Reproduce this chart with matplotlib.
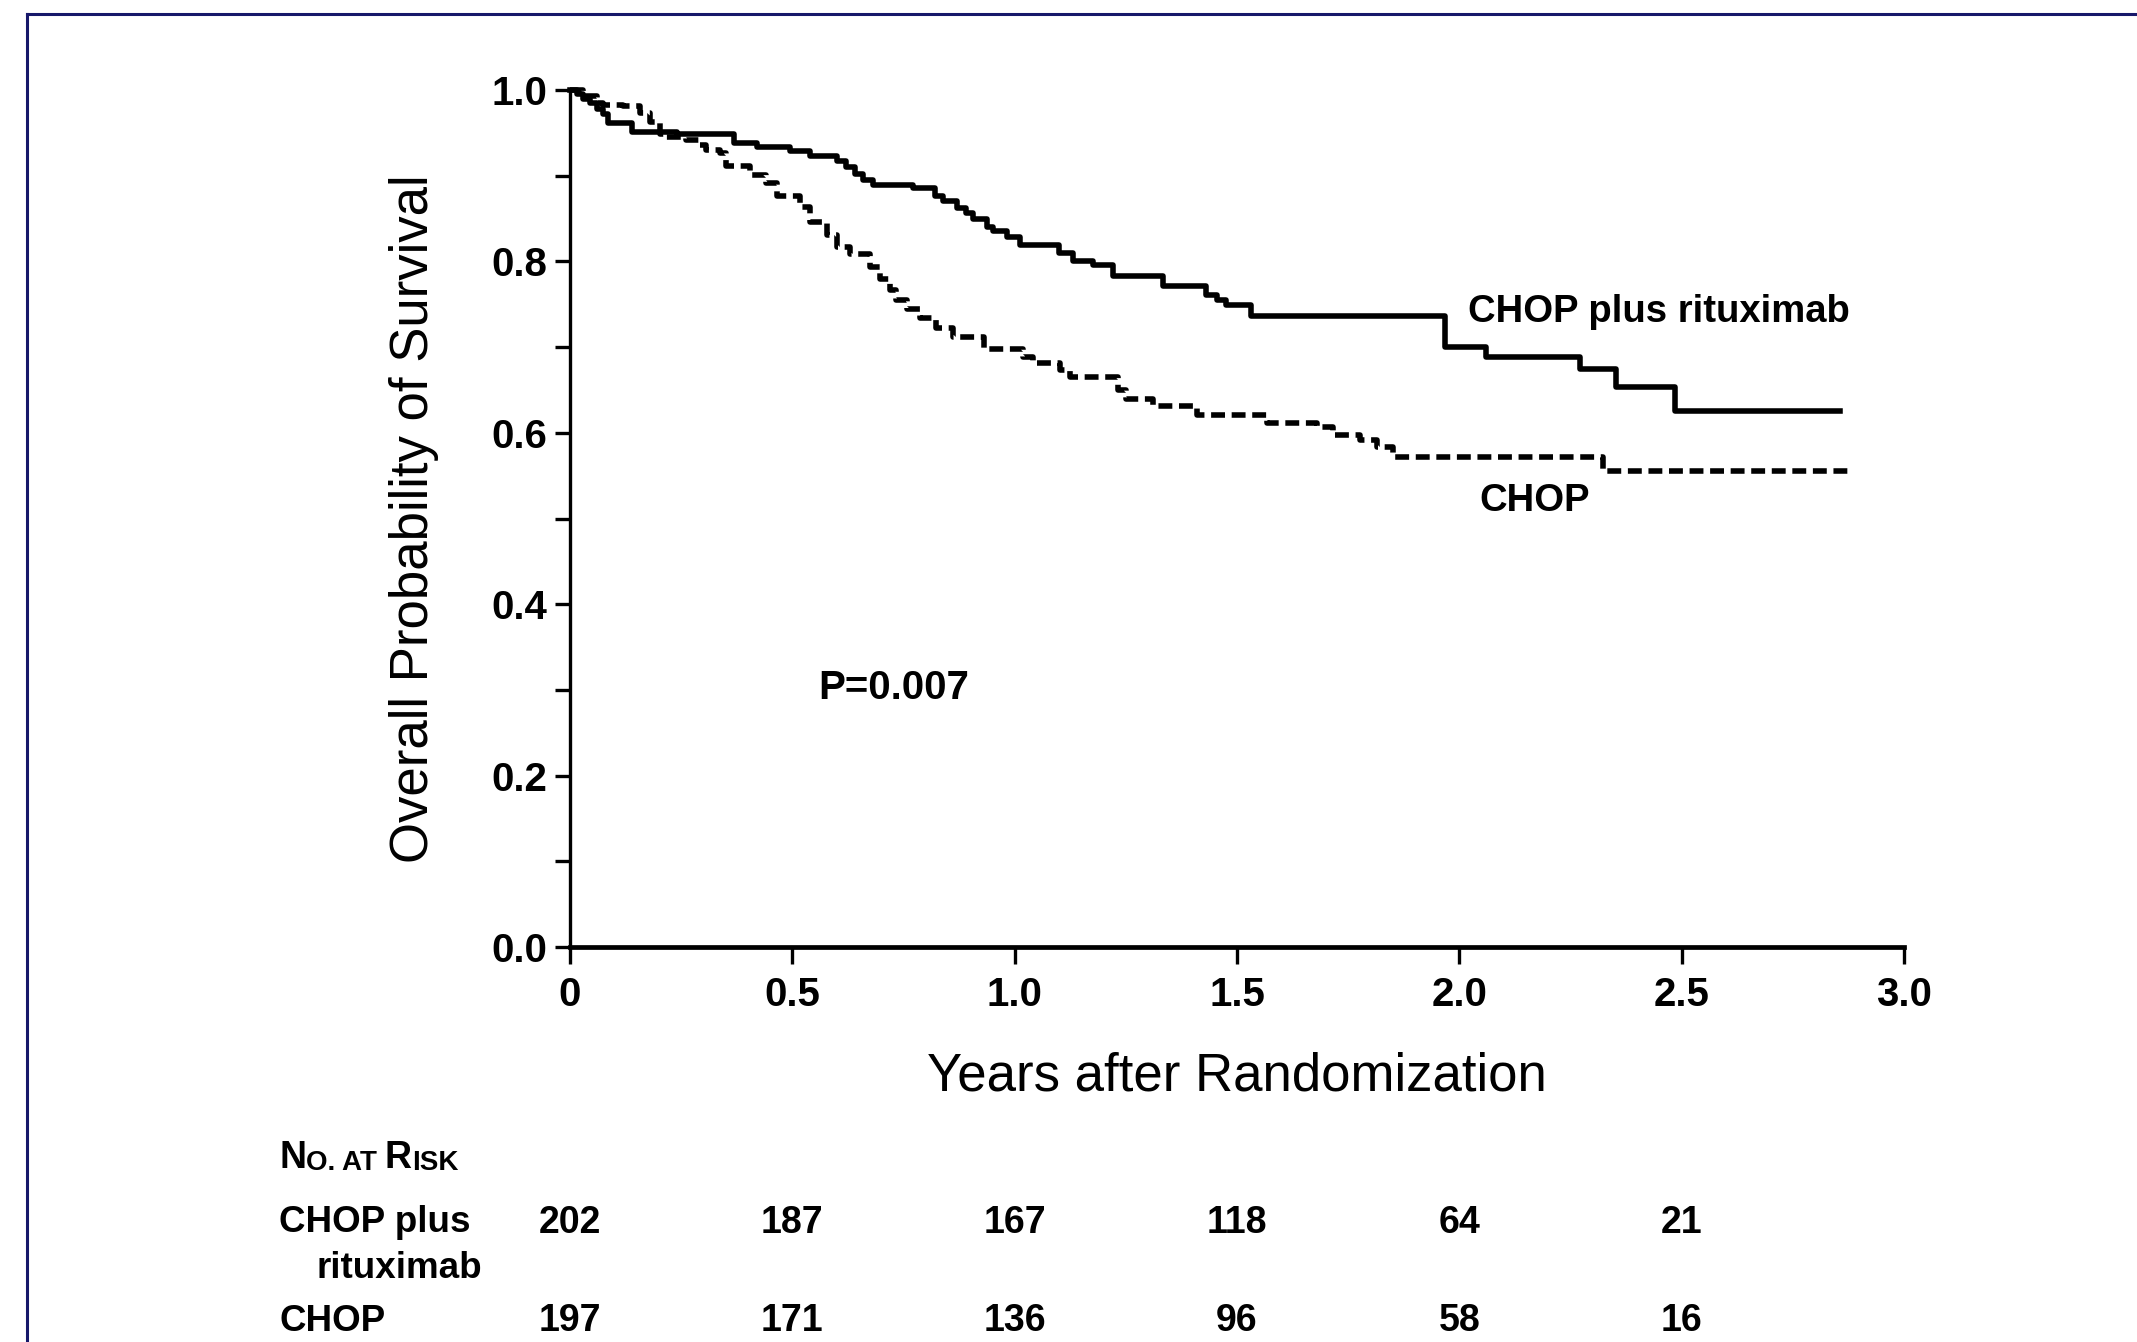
import matplotlib
matplotlib.use("Agg")
import matplotlib.pyplot as plt
from matplotlib.lines import Line2D

plt.rcParams['font.family'] = ['Liberation Sans', 'DejaVu Sans']

# Kaplan-Meier steps (years, survival after step)
rchop_t = [0.0, 0.015, 0.03, 0.045, 0.06, 0.075, 0.085, 0.139, 0.24, 0.37, 0.42,
           0.495, 0.54, 0.6, 0.62, 0.64, 0.66, 0.682, 0.772, 0.82, 0.84, 0.87,
           0.89, 0.907, 0.937, 0.952, 0.982, 1.012, 1.1, 1.132, 1.177, 1.222,
           1.334, 1.431, 1.455, 1.476, 1.532, 1.967, 2.061, 2.271, 2.353, 2.484, 2.855]
rchop_s = [1.0, 0.995, 0.99, 0.985, 0.978, 0.972, 0.961, 0.951, 0.949, 0.938, 0.934,
           0.929, 0.923, 0.917, 0.91, 0.902, 0.895, 0.889, 0.886, 0.876, 0.871, 0.862,
           0.856, 0.85, 0.84, 0.835, 0.829, 0.819, 0.81, 0.8, 0.796, 0.783,
           0.771, 0.761, 0.755, 0.749, 0.736, 0.7, 0.689, 0.674, 0.653, 0.626, 0.626]

chop_t = [0.0, 0.03, 0.06, 0.075, 0.12, 0.157, 0.18, 0.202, 0.217, 0.262, 0.292,
          0.307, 0.337, 0.352, 0.405, 0.442, 0.465, 0.517, 0.54, 0.577, 0.6, 0.629,
          0.675, 0.697, 0.72, 0.734, 0.757, 0.787, 0.824, 0.862, 0.932, 1.019, 1.042,
          1.102, 1.124, 1.232, 1.251, 1.311, 1.409, 1.567, 1.679, 1.716, 1.776, 1.814,
          1.851, 2.323, 2.878]
chop_s = [1.0, 0.993, 0.985, 0.9825, 0.981, 0.973, 0.963, 0.949, 0.945, 0.942, 0.936,
          0.93, 0.927, 0.911, 0.901, 0.891, 0.876, 0.864, 0.846, 0.831, 0.817, 0.809,
          0.794, 0.779, 0.767, 0.755, 0.744, 0.734, 0.722, 0.712, 0.698, 0.689, 0.681,
          0.673, 0.665, 0.65, 0.64, 0.631, 0.621, 0.611, 0.607, 0.598, 0.592, 0.584,
          0.572, 0.556, 0.556]

# number at risk
risk_times = [0, 0.5, 1.0, 1.5, 2.0, 2.5]
risk_rchop = [202, 187, 167, 118, 64, 21]
risk_chop = [197, 171, 136, 96, 58, 16]

x_ticks = [0, 0.5, 1.0, 1.5, 2.0, 2.5, 3.0]
x_labels = ['0', '0.5', '1.0', '1.5', '2.0', '2.5', '3.0']
y_ticks = [0.0, 0.2, 0.4, 0.6, 0.8, 1.0]

fig = plt.figure(figsize=(21.37, 13.42), dpi=100)
ax = fig.add_axes([0.2667, 0.2943, 0.6243, 0.6386])

ax.step(rchop_t, rchop_s, where='post', color='black', lw=4, clip_on=False)
ax.step(chop_t, chop_s, where='post', color='black', lw=4, clip_on=False,
        linestyle=(0, (2.5, 1.2)))

ax.set_xlim(0, 3)
ax.set_ylim(0, 1)
for s in ['top', 'right']:
    ax.spines[s].set_visible(False)
ax.spines['left'].set_linewidth(2.4)
ax.spines['bottom'].set_linewidth(3.4)

ax.set_xticks(x_ticks)
ax.set_xticklabels(x_labels, fontsize=29, fontweight='semibold')
ax.set_yticks(y_ticks)
ax.set_yticklabels(['%.1f' % v for v in y_ticks], fontsize=29, fontweight='bold')
ax.set_yticks([0.1, 0.3, 0.5, 0.7, 0.9], minor=True)
ax.tick_params(axis='x', length=12, width=2.4, pad=9)
ax.tick_params(axis='y', which='both', length=11, width=2.4, pad=5)

ax.set_xlabel('Years after Randomization', fontsize=38)
ax.xaxis.set_label_coords(0.5, -0.122)
ax.set_ylabel('Overall Probability of Survival', fontsize=38)
ax.yaxis.set_label_coords(-0.098, 0.5)

ax.text(2.02, 0.741, 'CHOP plus rituximab', fontsize=27.5, fontweight='bold', va='center')
ax.text(2.044, 0.521, 'CHOP', fontsize=27.5, fontweight='bold', va='center')
ax.text(0.558, 0.302, 'P=0.007', fontsize=29, fontweight='bold', va='center')

# No. at risk table
big, small = 27, 20
t = fig.text(0.1306, 0.137, 'N', fontsize=big, fontweight='bold', va='center')
t = ax.annotate('O. AT ', xy=(1, 0), xycoords=t, fontsize=small, fontweight='bold',
                va='bottom', annotation_clip=False)
t = ax.annotate('R', xy=(1, 0), xycoords=t, fontsize=big, fontweight='bold',
                va='bottom', annotation_clip=False)
t = ax.annotate('ISK', xy=(1, 0), xycoords=t, fontsize=small, fontweight='bold',
                va='bottom', annotation_clip=False)

fig.text(0.1306, 0.0887, 'CHOP plus', fontsize=26.5, fontweight='bold', va='center')
fig.text(0.148, 0.055, 'rituximab', fontsize=26.5, fontweight='bold', va='center')
fig.text(0.1306, 0.0155, 'CHOP', fontsize=26.5, fontweight='bold', va='center')

for tm, a, b in zip(risk_times, risk_rchop, risk_chop):
    xf = fig.transFigure.inverted().transform(ax.transData.transform((tm, 0)))[0]
    fig.text(xf, 0.0887, str(a), fontsize=27, fontweight='bold', ha='center', va='center')
    fig.text(xf, 0.0155, str(b), fontsize=27, fontweight='bold', ha='center', va='center')

# page frame
navy = '#17186a'
fig.add_artist(Line2D([0.0126, 0.0126], [0, 0.9896], color=navy, lw=2.2))
fig.add_artist(Line2D([0.0126, 1.0], [0.9896, 0.9896], color=navy, lw=2.2))

fig.savefig('out.png', dpi=100)
